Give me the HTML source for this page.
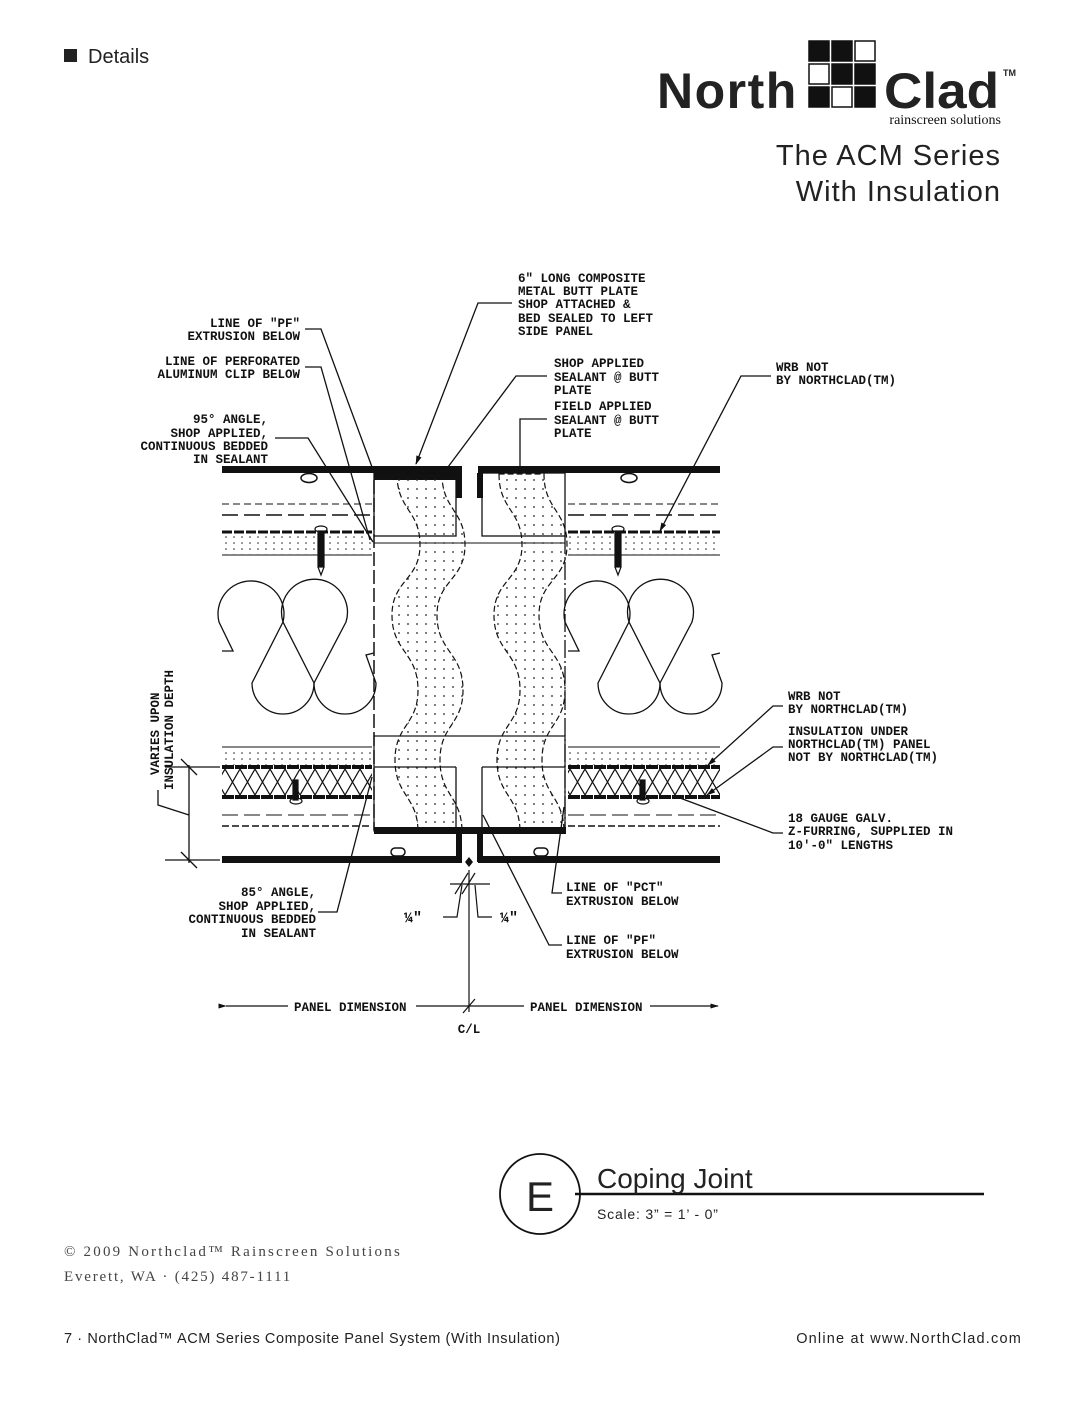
<!DOCTYPE html>
<html><head><meta charset="utf-8"><style>
html,body{margin:0;padding:0;background:#fff;}
svg{display:block;}
.c{font-family:"Liberation Mono",monospace;font-weight:bold;font-size:12.5px;fill:#111;}
.h{font-family:"Liberation Sans",sans-serif;fill:#222;}
</style></head><body>
<svg width="1088" height="1408" viewBox="0 0 1088 1408" xmlns="http://www.w3.org/2000/svg">
<defs>
<pattern id="dots" width="9" height="9" patternUnits="userSpaceOnUse"><circle cx="3" cy="3" r="0.9" fill="#222"/></pattern>
<pattern id="dots2" width="8" height="6" patternUnits="userSpaceOnUse"><circle cx="2" cy="3" r="0.8" fill="#222"/></pattern>
<pattern id="xh" width="15" height="26" patternUnits="userSpaceOnUse" y="769"><path d="M0,0 L15,26 M15,0 L0,26" stroke="#111" stroke-width="1.2"/></pattern>
<marker id="ar" viewBox="0 0 10 10" refX="9" refY="5" markerWidth="7" markerHeight="7" orient="auto"><path d="M0,2 L10,5 L0,8 Z" fill="#111"/></marker>
</defs>
<rect x="64" y="49" width="13" height="13" fill="#222"/>
<text x="88" y="63" class="h" font-size="20" fill="#444">Details</text>
<text x="657" y="108" class="h" font-size="50" font-weight="bold" fill="#111" letter-spacing="1.5">North</text>
<g fill="#111" stroke="#111" stroke-width="1.5">
<rect x="809" y="41" width="20" height="20"/><rect x="832" y="41" width="20" height="20"/><rect x="855" y="41" width="20" height="20" fill="#fff"/>
<rect x="809" y="64" width="20" height="20" fill="#fff"/><rect x="832" y="64" width="20" height="20"/><rect x="855" y="64" width="20" height="20"/>
<rect x="809" y="87" width="20" height="20"/><rect x="832" y="87" width="20" height="20" fill="#fff"/><rect x="855" y="87" width="20" height="20"/>
</g>
<text x="884" y="108" class="h" font-size="50" font-weight="bold" fill="#111" textLength="115" lengthAdjust="spacingAndGlyphs">Clad</text>
<text x="1003" y="76" class="h" font-size="9" font-weight="bold">TM</text>
<text x="1001" y="124" font-family="Liberation Serif,serif" font-size="14" text-anchor="end" fill="#111">rainscreen solutions</text>
<text x="1001" y="165" class="h" font-size="29" text-anchor="end" letter-spacing="1">The ACM Series</text>
<text x="1001" y="201" class="h" font-size="29" text-anchor="end" letter-spacing="1">With Insulation</text>

<g stroke="#111" fill="none">
<rect x="222" y="466" width="240" height="7" fill="#111" stroke="none"/>
<rect x="478" y="466" width="242" height="7" fill="#111" stroke="none"/>
<rect x="374" y="473" width="88" height="7" fill="#111" stroke="none"/>
<rect x="456" y="473" width="6" height="25" fill="#111" stroke="none"/>
<rect x="477" y="473" width="6" height="25" fill="#111" stroke="none"/>
<rect x="374" y="473" width="82" height="63" stroke-width="1.3"/>
<rect x="482" y="473" width="83" height="63" stroke-width="1.3"/>
<line x1="374" y1="543" x2="565" y2="543" stroke-width="1"/>
<ellipse cx="309" cy="478" rx="8" ry="4.5" stroke-width="1.5"/>
<ellipse cx="629" cy="478" rx="8" ry="4.5" stroke-width="1.5"/>
<line x1="222" y1="504" x2="372" y2="504" stroke-dasharray="7,4" stroke-width="1"/>
<line x1="222" y1="515" x2="372" y2="515" stroke-dasharray="16,6" stroke-width="1.5"/>
<line x1="222" y1="532" x2="372" y2="532" stroke-dasharray="10,2" stroke-width="3"/>
<rect x="222" y="535" width="150" height="20" fill="url(#dots2)" stroke="none"/>
<line x1="222" y1="555" x2="372" y2="555" stroke-width="1"/>
<line x1="568" y1="504" x2="720" y2="504" stroke-dasharray="7,4" stroke-width="1"/>
<line x1="568" y1="515" x2="720" y2="515" stroke-dasharray="16,6" stroke-width="1.5"/>
<line x1="568" y1="532" x2="720" y2="532" stroke-dasharray="10,2" stroke-width="3"/>
<rect x="568" y="535" width="152" height="20" fill="url(#dots2)" stroke="none"/>
<line x1="568" y1="555" x2="720" y2="555" stroke-width="1"/>
<g stroke-width="1.2"><ellipse cx="321" cy="529" rx="6" ry="3"/><rect x="318" y="531" width="6" height="36" fill="#111"/><path d="M318,567 L321,575 L324,567"/></g>
<g stroke-width="1.2"><ellipse cx="618" cy="529" rx="6" ry="3"/><rect x="615" y="531" width="6" height="36" fill="#111"/><path d="M615,567 L618,575 L621,567"/></g>
<line x1="374" y1="480" x2="374" y2="830" stroke-dasharray="14,4" stroke-width="1.5"/>
<line x1="565" y1="536" x2="565" y2="830" stroke-dasharray="18,3,2,3" stroke-width="1.3"/>
<g stroke-width="1.3">
<g id="batt">
<path d="M222,651 L233,651 L219,622 A33,33 0 1 1 283,622 L314,683 A31,31 0 1 0 376,683 L366,655 L374,653"/>
<path d="M283,622 A33,33 0 1 1 346,622 L314,683 A31,31 0 1 1 252,683 Z"/>
</g>
<use href="#batt" x="346"/>
</g>
<path d="M397,474 C397,510 420,510 420,545 C420,580 392,580 392,615 C392,652 418,652 418,690 C418,725 395,725 395,760 C395,796 418,796 418,832 L462,832 C462,796 440,796 440,760 C440,725 463,725 463,690 C463,652 437,652 437,615 C437,580 465,580 465,545 C465,510 442,510 442,474 Z" fill="url(#dots)" stroke-dasharray="6,3" stroke-width="1.2"/>
<path d="M499,474 C499,510 522,510 522,545 C522,580 494,580 494,615 C494,652 520,652 520,690 C520,725 497,725 497,760 C497,796 520,796 520,832 L564,832 C564,796 542,796 542,760 C542,725 565,725 565,690 C565,652 539,652 539,615 C539,580 567,580 567,545 C567,510 544,510 544,474 Z" fill="url(#dots)" stroke-dasharray="6,3" stroke-width="1.2"/>
<rect x="374" y="736" width="191" height="95" stroke-width="1.2"/>
<line x1="374" y1="767" x2="456" y2="767" stroke-width="1.3"/><line x1="456" y1="767" x2="456" y2="828" stroke-width="1.3"/>
<line x1="482" y1="767" x2="565" y2="767" stroke-width="1.3"/><line x1="482" y1="767" x2="482" y2="828" stroke-width="1.3"/>
<rect x="374" y="827" width="192" height="7" fill="#111" stroke="none"/>
<rect x="456" y="827" width="6" height="35" fill="#111" stroke="none"/>
<rect x="477" y="827" width="6" height="35" fill="#111" stroke="none"/>
<line x1="222" y1="747" x2="372" y2="747" stroke-width="1"/>
<rect x="222" y="748" width="150" height="17" fill="url(#dots2)" stroke="none"/>
<line x1="568" y1="747" x2="720" y2="747" stroke-width="1"/>
<rect x="568" y="748" width="152" height="17" fill="url(#dots2)" stroke="none"/>
<rect x="222" y="769" width="150" height="26" fill="url(#xh)" stroke="none"/>
<rect x="568" y="769" width="152" height="26" fill="url(#xh)" stroke="none"/>
<g stroke-width="4"><line x1="222" y1="767" x2="372" y2="767" stroke-dasharray="12,1"/><line x1="222" y1="797" x2="372" y2="797" stroke-dasharray="12,1"/>
<line x1="568" y1="767" x2="720" y2="767" stroke-dasharray="12,1"/><line x1="568" y1="797" x2="720" y2="797" stroke-dasharray="12,1"/></g>
<line x1="222" y1="815" x2="372" y2="815" stroke-dasharray="16,6" stroke-width="1"/>
<line x1="222" y1="826" x2="372" y2="826" stroke-dasharray="7,3" stroke-width="1.5"/>
<line x1="568" y1="815" x2="720" y2="815" stroke-dasharray="16,6" stroke-width="1"/>
<line x1="568" y1="826" x2="720" y2="826" stroke-dasharray="7,3" stroke-width="1.5"/>
<g stroke-width="1.2"><rect x="293" y="780" width="5" height="20" fill="#111"/><ellipse cx="296" cy="801" rx="6" ry="3"/>
<rect x="640" y="780" width="5" height="20" fill="#111"/><ellipse cx="643" cy="801" rx="6" ry="3"/></g>
<rect x="222" y="856" width="240" height="7" fill="#111" stroke="none"/>
<rect x="478" y="856" width="242" height="7" fill="#111" stroke="none"/>
<rect x="391" y="848" width="14" height="8" rx="4" stroke-width="1.5"/>
<rect x="534" y="848" width="14" height="8" rx="4" stroke-width="1.5"/>
<path d="M469,857 L473,862 L469,867 L465,862 Z" fill="#111" stroke="none"/>
<g stroke-width="1.3">
<line x1="189" y1="765" x2="189" y2="863"/>
<line x1="165" y1="767" x2="220" y2="767"/><line x1="165" y1="860" x2="220" y2="860"/>
<line x1="181" y1="759" x2="197" y2="775"/><line x1="181" y1="852" x2="197" y2="868"/>
<path d="M158,790 L158,805 L189,815"/>
</g>
<g stroke-width="1.2">
<line x1="469" y1="870" x2="469" y2="1012"/>
<line x1="450" y1="884" x2="490" y2="884"/>
<line x1="455" y1="894" x2="468" y2="873"/><line x1="462" y1="894" x2="475" y2="873"/>
<path d="M462,885 L457,917 L443,917"/><path d="M475,885 L478,917 L492,917"/>
<line x1="226" y1="1006" x2="288" y2="1006" marker-start="url(#ar)"/>
<line x1="416" y1="1006" x2="524" y2="1006"/>
<line x1="650" y1="1006" x2="718" y2="1006" marker-end="url(#ar)"/>
<line x1="463" y1="1013" x2="475" y2="999"/>
</g>
<g stroke-width="1.3">
<path d="M512,303 L478,303 L416,464" marker-end="url(#ar)"/>
<path d="M305,329 L321,329 L372,467"/>
<path d="M305,367 L321,367 L370,540"/>
<path d="M275,438 L308,438 L373,542"/>
<path d="M547,376 L516,376 L448,467"/>
<path d="M547,419 L520,419 L520,467"/>
<path d="M771,376 L741,376 L660,531" marker-end="url(#ar)"/>
<path d="M783,706 L773,706 L708,765" marker-end="url(#ar)"/>
<path d="M783,747 L773,747 L707,795" marker-end="url(#ar)"/>
<path d="M783,833 L773,833 L680,798"/>
<path d="M318,912 L337,912 L372,777"/>
<path d="M562,893 L552,893 L564,807"/>
<path d="M562,945 L549,945 L483,815"/>
</g>
</g>
<g class="c">
<text x="518" y="282">6" LONG COMPOSITE</text>
<text x="518" y="295">METAL BUTT PLATE</text>
<text x="518" y="308">SHOP ATTACHED &amp;</text>
<text x="518" y="322">BED SEALED TO LEFT</text>
<text x="518" y="335">SIDE PANEL</text>
<g text-anchor="end">
<text x="300" y="327">LINE OF "PF"</text>
<text x="300" y="340">EXTRUSION BELOW</text>
<text x="300" y="365">LINE OF PERFORATED</text>
<text x="300" y="378">ALUMINUM CLIP BELOW</text>
<text x="268" y="423">95° ANGLE,</text>
<text x="268" y="437">SHOP APPLIED,</text>
<text x="268" y="450">CONTINUOUS BEDDED</text>
<text x="268" y="463">IN SEALANT</text>
<text x="316" y="896">85° ANGLE,</text>
<text x="316" y="910">SHOP APPLIED,</text>
<text x="316" y="923">CONTINUOUS BEDDED</text>
<text x="316" y="937">IN SEALANT</text>
</g>
<text x="554" y="367">SHOP APPLIED</text>
<text x="554" y="381">SEALANT @ BUTT</text>
<text x="554" y="394">PLATE</text>
<text x="554" y="410">FIELD APPLIED</text>
<text x="554" y="424">SEALANT @ BUTT</text>
<text x="554" y="437">PLATE</text>
<text x="776" y="371">WRB NOT</text>
<text x="776" y="384">BY NORTHCLAD(TM)</text>
<text x="788" y="700">WRB NOT</text>
<text x="788" y="713">BY NORTHCLAD(TM)</text>
<text x="788" y="735">INSULATION UNDER</text>
<text x="788" y="748">NORTHCLAD(TM) PANEL</text>
<text x="788" y="761">NOT BY NORTHCLAD(TM)</text>
<text x="788" y="822">18 GAUGE GALV.</text>
<text x="788" y="835">Z-FURRING, SUPPLIED IN</text>
<text x="788" y="849">10'-0" LENGTHS</text>
<text x="566" y="891">LINE OF "PCT"</text>
<text x="566" y="905">EXTRUSION BELOW</text>
<text x="566" y="944">LINE OF "PF"</text>
<text x="566" y="958">EXTRUSION BELOW</text>
<text x="404" y="922" font-size="15">¼"</text>
<text x="500" y="922" font-size="15">¼"</text>
<text x="294" y="1011">PANEL DIMENSION</text>
<text x="530" y="1011">PANEL DIMENSION</text>
<text x="469" y="1033" text-anchor="middle">C/L</text>
<text transform="translate(159,775) rotate(-90)">VARIES UPON</text>
<text transform="translate(173,790) rotate(-90)">INSULATION DEPTH</text>
</g>
<circle cx="540" cy="1194" r="40" fill="none" stroke="#111" stroke-width="1.8"/>
<text x="540" y="1211" class="h" font-size="42" text-anchor="middle" fill="#111">E</text>
<line x1="575" y1="1194" x2="984" y2="1194" stroke="#111" stroke-width="2.5"/>
<text x="597" y="1188" class="h" font-size="28" fill="#111">Coping Joint</text>
<text x="597" y="1219" class="h" font-size="14" fill="#111" letter-spacing="0.8">Scale: 3” = 1’ - 0”</text>
<text x="64" y="1256" font-family="Liberation Serif,serif" font-size="15" fill="#444" letter-spacing="2.2">© 2009 Northclad™ Rainscreen Solutions</text>
<text x="64" y="1281" font-family="Liberation Serif,serif" font-size="15" fill="#444" letter-spacing="1.8">Everett, WA · (425) 487-1111</text>
<text x="64" y="1343" class="h" font-size="14.5" fill="#444" letter-spacing="0.6">7 · NorthClad™ ACM Series Composite Panel System (With Insulation)</text>
<text x="1022" y="1343" class="h" font-size="14.5" fill="#444" text-anchor="end" letter-spacing="1.2">Online at www.NorthClad.com</text>
</svg>
</body></html>
